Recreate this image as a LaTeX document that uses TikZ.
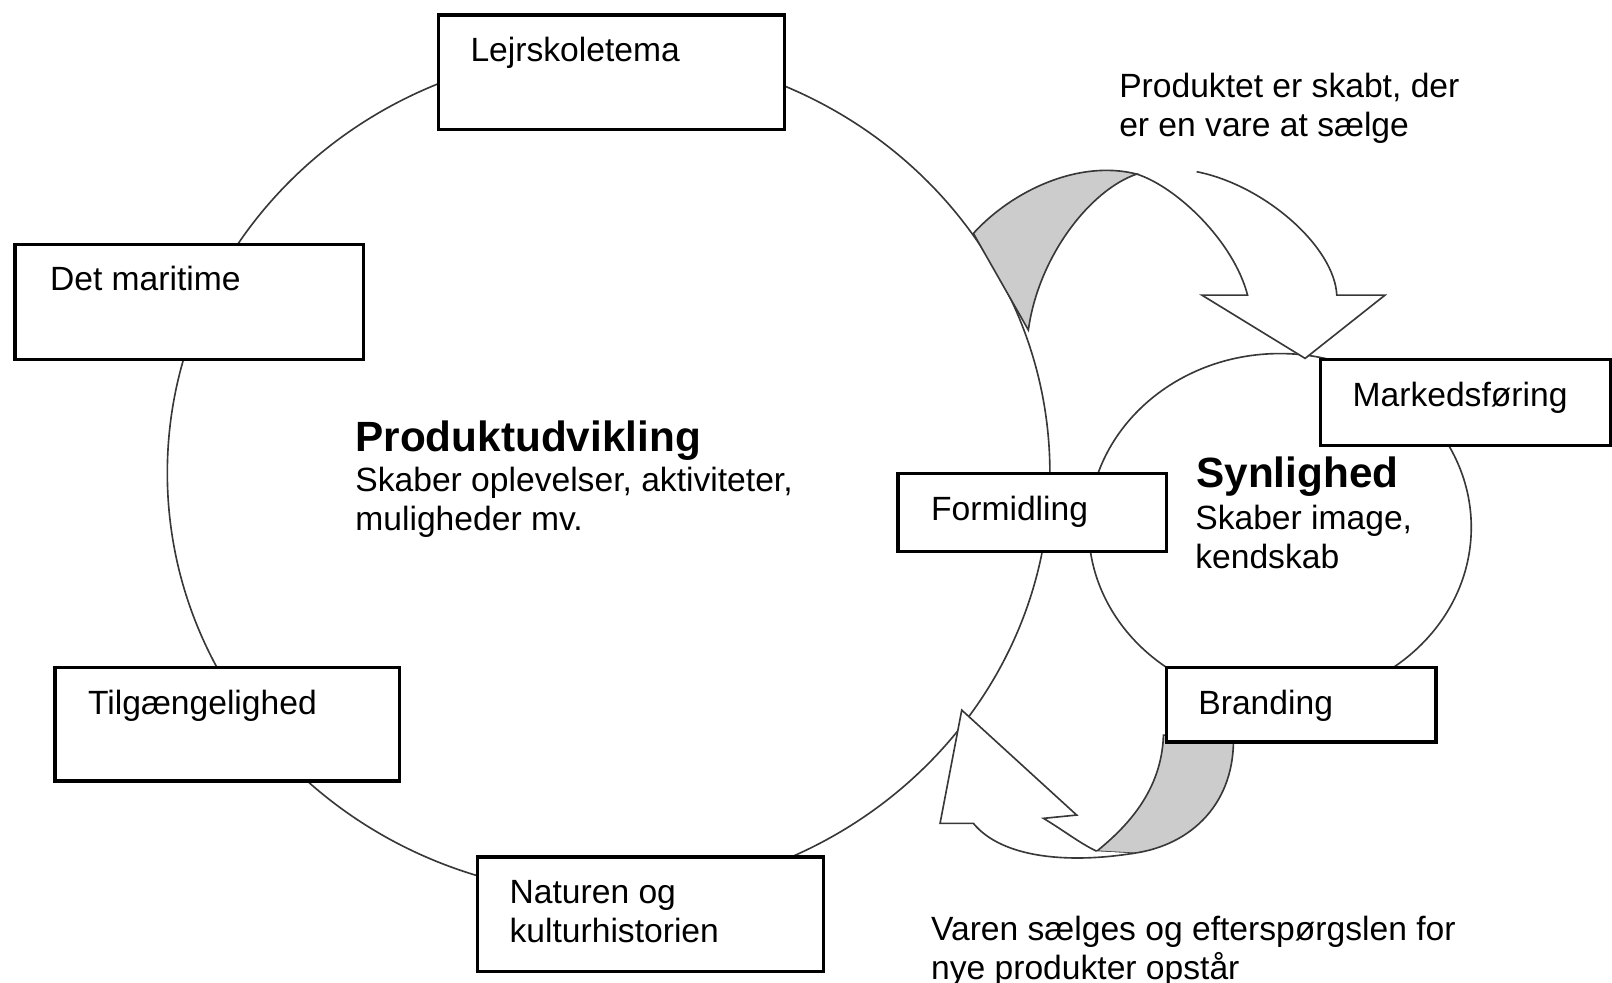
\documentclass[tikz,border=0pt]{standalone}
\usepackage{fontspec}
\setmainfont{Liberation Sans}
\usetikzlibrary{calc}
\definecolor{ringgray}{rgb}{0.22,0.22,0.22}
\definecolor{backgray}{rgb}{0.80,0.80,0.80}
\tikzset{
  box/.style={draw=black, line width=0.9pt, fill=white, anchor=north west, inner sep=0pt},
  boxtext/.style={anchor=base west, inner sep=0pt, align=left, font=\fontsize{9.3}{10.8}\selectfont},
  headtext/.style={anchor=base west, inner sep=0pt, font=\fontsize{11.7}{14}\selectfont\bfseries},
  ring/.style={draw=ringgray, line width=0.45pt},
  ribbon/.style={draw=ringgray, line width=0.45pt, line join=miter, fill=white},
  ribbonback/.style={draw=ringgray, line width=0.45pt, fill=backgray},
}
\begin{document}
\begin{tikzpicture}[x=0.01cm, y=-0.01cm]
\useasboundingbox (0,0) rectangle (1568,956);

% Drawing ellipse Produktudvikling
\draw[ring] (592,460) ellipse [x radius=4.29cm, y radius=4.10cm];

% Drawing ellipse Synlighed
\draw[ring] (1245,513) ellipse [x radius=1.86cm, y radius=1.69cm];

% Drawing ribbon top, back side
\filldraw[ribbonback] (946.8,227) .. controls (985,185) and (1050,155) .. (1105.7,169.3)
  .. controls (1060,185) and (1010,250) .. (1000.3,321) -- cycle;

% Drawing ribbon top, front side
\filldraw[ribbon] (1105.7,169.3) .. controls (1145,182) and (1200,235) .. (1213.5,287)
  -- (1169,287) -- (1269.5,348.6) -- (1347.3,287) -- (1300.3,287)
  .. controls (1298,240) and (1230,180) .. (1164,167);

% Drawing ribbon bottom, back side
\filldraw[ribbonback] (1131.7,715) .. controls (1130,770) and (1095,805) .. (1066.8,828)
  -- (1102.5,830) .. controls (1160,822) and (1202,780) .. (1199.7,715) -- cycle;

% Drawing ribbon bottom, front side
\filldraw[ribbon] (1102.5,830) .. controls (1040,840) and (975,835) .. (946.8,800.9)
  -- (914.4,800.9) -- (935.5,690.7) -- (1047.3,792.8) -- (1015,796)
  .. controls (1035,808) and (1050,820) .. (1066.8,828);

% Drawing boxes
\node[box, minimum width=3.36cm, minimum height=1.11cm] (lejr) at (425,13) {};
\node[boxtext] (lejrtext) at ($(lejr.north west)+(32,47)$) {Lejrskoletema};

\node[box, minimum width=3.39cm, minimum height=1.12cm] (maritim) at (13,236) {};
\node[boxtext] (maritimtext) at ($(maritim.north west)+(35,47)$) {Det maritime};

\node[box, minimum width=3.35cm, minimum height=1.10cm] (tilg) at (52,648) {};
\node[boxtext] (tilgtext) at ($(tilg.north west)+(33,47)$) {Tilgængelighed};

\node[box, minimum width=3.36cm, minimum height=1.11cm] (natur) at (463,832) {};
\node[boxtext] (naturtext) at ($(natur.north west)+(32,85)$) {Naturen og\\kulturhistorien};

\node[box, minimum width=2.61cm, minimum height=0.76cm] (formid) at (872,459) {};
\node[boxtext] (formidtext) at ($(formid.north west)+(33,47)$) {Formidling};

\node[box, minimum width=2.82cm, minimum height=0.84cm] (marked) at (1283,348) {};
\node[boxtext] (markedtext) at ($(marked.north west)+(32,47)$) {Markedsføring};

\node[box, minimum width=2.62cm, minimum height=0.72cm] (brand) at (1133,648) {};
\node[boxtext] (brandtext) at ($(brand.north west)+(32,47)$) {Branding};

% Marking texts
\node[headtext] (produkt) at (345,439) {Produktudvikling};
\node[boxtext] (produkttext) at (345,516) {Skaber oplevelser, aktiviteter,\\muligheder mv.};

\node[headtext] (synlig) at (1163,474) {Synlighed};
\node[boxtext] (synligtext) at (1162,553) {Skaber image,\\kendskab};

\node[boxtext] (skabt) at (1088,133) {Produktet er skabt, der\\er en vare at sælge};
\node[boxtext] (saelges) at (905,953) {Varen sælges og efterspørgslen for\\nye produkter opstår};
\end{tikzpicture}
\end{document}
